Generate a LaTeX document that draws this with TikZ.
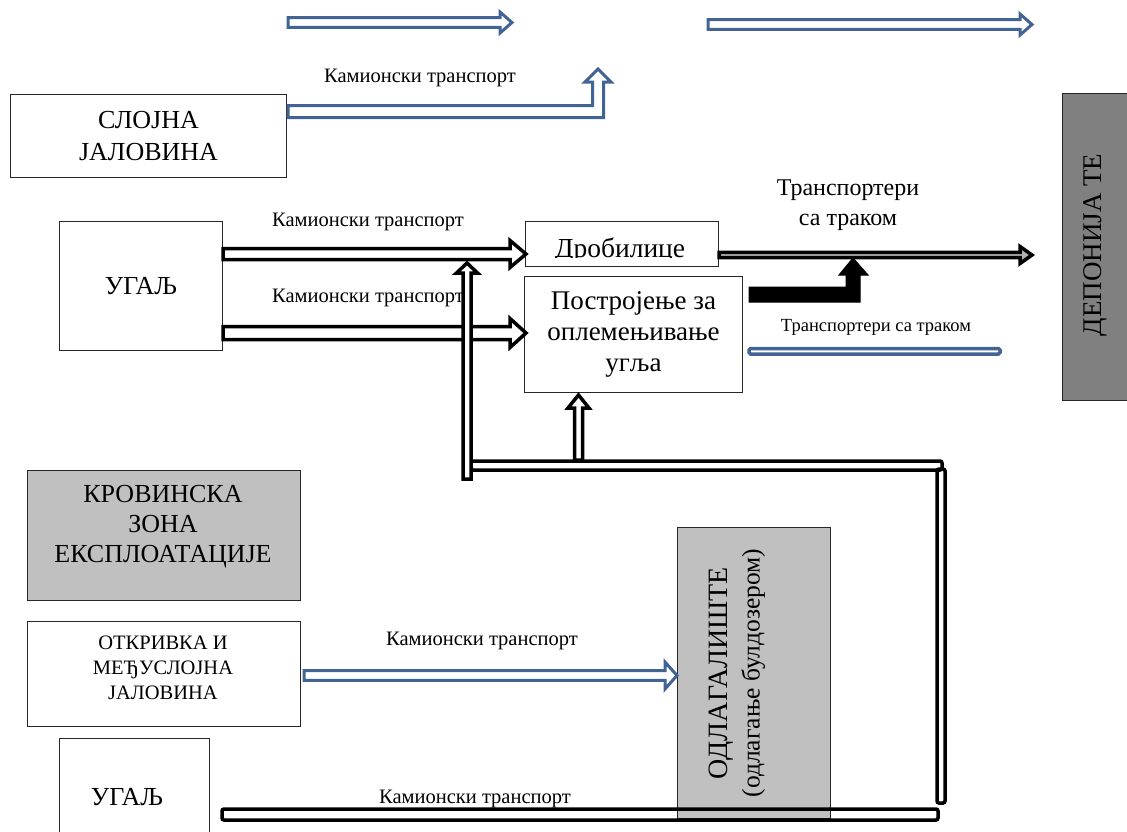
\documentclass[tikz,border=0pt]{standalone}
\usepackage{fontspec}
\setmainfont{Liberation Serif}
\usetikzlibrary{calc}
\definecolor{arrowblue}{RGB}{65,100,148}
\definecolor{boxgray}{RGB}{192,192,192}
\definecolor{darkbox}{RGB}{128,128,128}
\newcommand\fs[2]{\fontsize{#1}{#2}\selectfont}
% horizontal block arrow: #1 start, #2 tip, #3 shaft half, #4 head half, #5 head length, #6 style
\newcommand\harrow[6]{\path[#6] let \p1=#1, \p2=#2 in
  (\x1,\y2+#3) -- (\x2-#5,\y2+#3) -- (\x2-#5,\y2+#4) -- (\x2,\y2) --
  (\x2-#5,\y2-#4) -- (\x2-#5,\y2-#3) -- (\x1,\y2-#3) -- cycle;}
% vertical (upward) block arrow
\newcommand\varrow[6]{\path[#6] let \p1=#1, \p2=#2 in
  (\x2-#3,\y1) -- (\x2-#3,\y2-#5) -- (\x2-#4,\y2-#5) -- (\x2,\y2) --
  (\x2+#4,\y2-#5) -- (\x2+#3,\y2-#5) -- (\x2+#3,\y1) -- cycle;}
\begin{document}
\begin{tikzpicture}[x=1pt,y=-1pt,
  box/.style={draw=black!85, line width=1pt, inner sep=0pt, align=center, anchor=north west},
  lbl/.style={inner sep=0pt, align=center},
  bluearrow/.style={draw=arrowblue, line width=3pt, fill=white, line join=miter},
  blackarrow/.style={draw=black, line width=3.5pt, fill=white, line join=miter},
  solidarrow/.style={draw=black, line width=1pt, fill=black},
  pipe/.style={draw=black, line width=3.5pt, rounded corners=2pt}]
\useasboundingbox (0,0) rectangle (1127,831);

% ---- boxes ----
\node[box, minimum width=276, minimum height=83, font=\fs{26}{32}] (sloj) at (10,94) {СЛОЈНА\\ЈАЛОВИНА};
\node[box, minimum width=163, minimum height=129, font=\fs{26}{30}] (ugal1) at (59,221) {УГАЉ};
\node[box, minimum width=193, minimum height=45] (drob) at (525,221) {};
\begin{scope}
  \clip ($(drob.north west)+(1,1)$) rectangle ($(drob.south east)+(-1,-10)$);
  \node[lbl, anchor=base, font=\fs{27.5}{30}] (drobT) at ($(drob.south)+(-2,-10)$) {Дробилице};
\end{scope}
\node[box, minimum width=218, minimum height=116, font=\fs{27}{31}] (postr) at (524,276) {Постројење за\\оплемењивање\\угља};
\node[box, fill=darkbox, minimum width=66, minimum height=307, font=\fs{27}{30}] (depon) at (1062,93) {};
\node[lbl, rotate=90, font=\fs{27}{30}] (deponT) at (1095,245) {ДЕПОНИЈА ТЕ};
\node[box, fill=boxgray, minimum width=273, minimum height=130] (krov) at (27,470) {};
\node[lbl, font=\fs{26}{30}] (krovT) at (163,527) {КРОВИНСКА\\ЗОНА\\ЕКСПЛОАТАЦИЈЕ};
\node[box, minimum width=273, minimum height=105] (otkr) at (27,621) {};
\node[lbl, font=\fs{20.5}{25}] (otkrT) at (163,668) {ОТКРИВКА И\\МЕЂУСЛОЈНА\\ЈАЛОВИНА};
\node[box, fill=boxgray, minimum width=153, minimum height=291] (odlag) at (677,527) {};
\node[lbl, rotate=90, font=\fs{28}{32}] (odlagT) at (737,673) {ОДЛАГАЛИШТЕ\\{\fs{25.5}{32}(одлагање булдозером)}};
\node[box, minimum width=150, minimum height=110] (ugal2) at (59,738) {};
\node[lbl, font=\fs{26}{30}] (ugal2T) at (127,797) {УГАЉ};

% ---- top blue arrows ----
\coordinate (ta1s) at (288,22.5);
\coordinate (ta1t) at (512,22.5);
\coordinate (ta2s) at (708,24.5);
\coordinate (ta2t) at (1032,24.5);
\harrow{(ta1s)}{(ta1t)}{4.8pt}{10.5pt}{12pt}{bluearrow}
\harrow{(ta2s)}{(ta2t)}{4.8pt}{10.5pt}{12pt}{bluearrow}

% ---- L-shaped blue arrow from СЛОЈНА ЈАЛОВИНА ----
\coordinate (lTip) at (598,69);
\path[bluearrow] let \p1=(sloj.north east), \p2=(lTip) in
  (\x1+1pt,\y1-11.5pt) -- (\x2-5.5pt,\y1-11.5pt) -- (\x2-5.5pt,\y2-13pt) -- (\x2-13pt,\y2-13pt) --
  (\x2,\y2) -- (\x2+13pt,\y2-13pt) -- (\x2+5.5pt,\y2-13pt) -- (\x2+5.5pt,\y1-23.5pt) --
  (\x1+1pt,\y1-23.5pt) -- cycle;
\node[lbl, font=\fs{20.5}{24}] (lab1) at (420,78) {Камионски транспорт};

% ---- УГАЉ -> Дробилице / Постројење ----
\coordinate (u1) at ($(ugal1.east)+(0,-32)$);
\coordinate (u2) at ($(ugal1.east)+(0,47)$);
\harrow{(u1)}{($(drob.west |- u1)+(1,0)$)}{5.5pt}{13.5pt}{16pt}{blackarrow}
\harrow{(u2)}{($(postr.west |- u2)+(2,0)$)}{6.5pt}{14.5pt}{16pt}{blackarrow}
\node[lbl, font=\fs{20.5}{24}] (lab2) at (368,222) {Камионски транспорт};
\node[lbl, font=\fs{20.5}{24}] (lab3) at (368,298) {Камионски транспорт};

% ---- conveyor from Дробилице to ДЕПОНИЈА ----
\coordinate (cv1) at ($(drob.south east)+(0,-11)$);
\coordinate (cv1t) at (1032,255);
\harrow{(cv1)}{(cv1t)}{2.6pt}{8.5pt}{12pt}{draw=black, line width=3.5pt, fill=gray!60, line join=miter}
\node[lbl, font=\fs{24}{30}] (traka1) at (848,205) {Транспортери\\са траком};

% ---- solid L arrow from Постројење ----
\coordinate (sTip) at (853,258);
\path[solidarrow] let \p1=($(postr.north east)+(6,11)$), \p2=(sTip) in
  (\x1,\y1) -- (\x2-7pt,\y1) -- (\x2-7pt,\y2-17pt) -- (\x2-14pt,\y2-17pt) -- (\x2,\y2) --
  (\x2+15pt,\y2-17pt) -- (\x2+7pt,\y2-17pt) -- (\x2+7pt,\y1-15pt) -- (\x1,\y1-15pt) -- cycle;

% ---- blue belt ----
\node[lbl, font=\fs{18.5}{22}] (traka2) at (876,327) {Транспортери са траком};
\coordinate (belt1) at ($(postr.east)+(6,14)$);
\coordinate (belt2) at (1000,354);
\draw[arrowblue, line width=3.5pt, rounded corners=1.5pt] (belt1) rectangle (belt2);

% ---- return pipes ----
\coordinate (p1a) at (471,461);
\coordinate (p1b) at (942,470);
\coordinate (p2a) at (937,469);
\coordinate (p2b) at (945,803);
\coordinate (p3a) at (222,809);
\coordinate (p3b) at (938,820);
\draw[pipe] (p1a) rectangle (p1b);
\draw[pipe] (p2a) rectangle (p2b);
\draw[pipe] (p3a) rectangle (p3b);
\node[lbl, font=\fs{20.5}{24}] (lab5) at (475,799) {Камионски транспорт};

% vertical arrow up to the Дробилице feed
\coordinate (vA) at (467,479);
\coordinate (vAt) at (467,263);
\varrow{(vA)}{(vAt)}{4pt}{10.5pt}{10pt}{blackarrow}
% arrow up into Постројење
\coordinate (vB) at ($(postr.south)+(-55,67)$);
\varrow{(vB)}{($(postr.south)+(-55,2)$)}{4pt}{10.5pt}{13pt}{blackarrow}

% ---- ОТКРИВКА -> ОДЛАГАЛИШТЕ ----
\coordinate (ob) at ($(otkr.east)+(3,1.5)$);
\harrow{(ob)}{($(odlag.west |- ob)+(0,0)$)}{4.8pt}{13.5pt}{12pt}{bluearrow}
\node[lbl, font=\fs{20.5}{24}] (lab4) at (482,641) {Камионски транспорт};
\end{tikzpicture}
\end{document}
